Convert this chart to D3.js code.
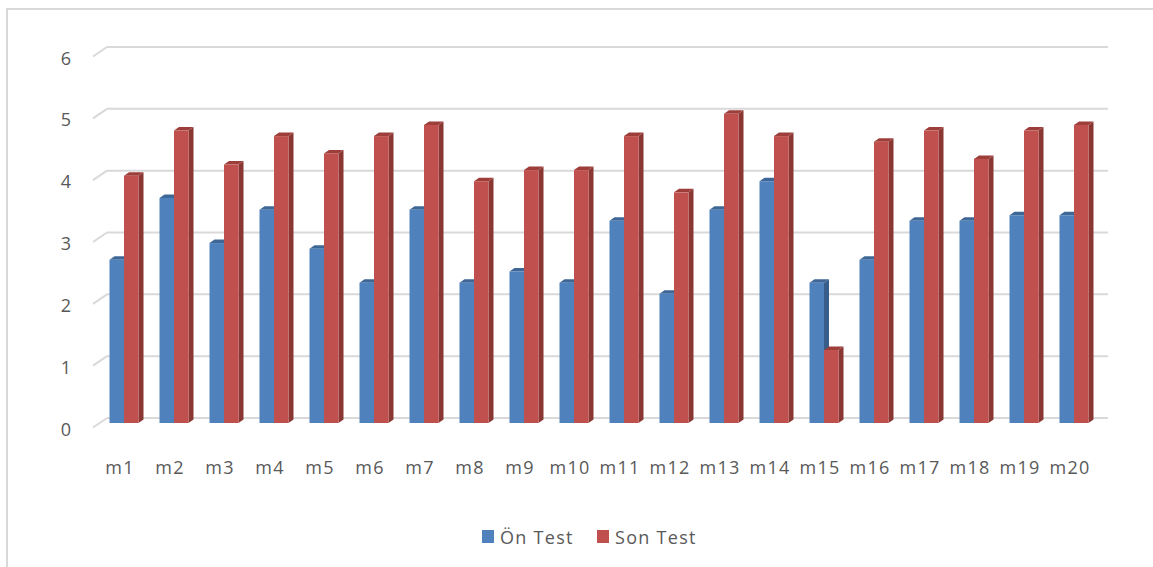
<!DOCTYPE html>
<html><head><meta charset="utf-8">
<script src="https://cdn.jsdelivr.net/npm/d3@7/dist/d3.min.js"></script>
<style>body{margin:0;background:#fff;}svg{display:block;}</style>
</head><body>
<svg id="c" width="1153" height="567"></svg>
<script>
const categories = ["m1","m2","m3","m4","m5","m6","m7","m8","m9","m10","m11","m12","m13","m14","m15","m16","m17","m18","m19","m20"];
const onTest  = [2.64,3.64,2.91,3.45,2.82,2.27,3.45,2.27,2.45,2.27,3.27,2.09,3.45,3.91,2.27,2.64,3.27,3.27,3.36,3.36];
const sonTest = [4.00,4.73,4.18,4.64,4.36,4.64,4.82,3.91,4.09,4.09,4.64,3.73,5.00,4.64,1.18,4.55,4.73,4.27,4.73,4.82];
const seriesNames = ["Ön Test","Son Test"];
const yTicks = [0,1,2,3,4,5,6];

const colors = [
  {front:"#4F81BD", side:"#385D8A", top:"#3E6796"},
  {front:"#C0504D", side:"#8A3734", top:"#9E3E3B"}
];
const font = "'Open Sans', 'DejaVu Sans', sans-serif";
const ls = 1.3;
const svg = d3.select("#c");

// frame
svg.append("rect").attr("x",7).attr("y",9).attr("width",1160).attr("height",580)
  .attr("fill","none").attr("stroke","#d9d9d9").attr("stroke-width",2);

const x = d3.scaleBand().domain(categories).range([107,1107]);
const y = d3.scaleLinear().domain([0,6]).range([418,47]);
const frontDx = -14, frontDy = 9.5;
const barDx = -8, barDy = 5;
const depthX = 5, depthY = -3.5;

// gridlines (back wall + floor diagonal)
const g = svg.append("g");
yTicks.forEach(t=>{
  g.append("line").attr("x1",107).attr("x2",1108).attr("y1",y(t)).attr("y2",y(t))
    .attr("stroke","#d9d9d9").attr("stroke-width",2);
  g.append("line").attr("x1",107+frontDx).attr("y1",y(t)+frontDy).attr("x2",107).attr("y2",y(t))
    .attr("stroke","#d9d9d9").attr("stroke-width",2);
  g.append("text").attr("x",66).attr("y",y(t)+frontDy+1).attr("text-anchor","middle")
    .attr("dominant-baseline","central").attr("font-family",font).attr("font-size",18)
    .attr("fill","#595959").text(t);
});

// bars
const bw = 14.5;
const bars = svg.append("g");
categories.forEach((c,i)=>{
  const cx = x(c) + x.bandwidth()/2 + barDx;
  [onTest[i], sonTest[i]].forEach((v,s)=>{
    const x0 = cx - bw + s*bw;
    const yb = y(0)+barDy, yt = y(v)+barDy;
    const col = colors[s];
    bars.append("path").attr("d",
      `M${x0+bw},${yb}L${x0+bw+depthX},${yb+depthY}L${x0+bw+depthX},${yt+depthY}L${x0+bw},${yt}Z`)
      .attr("fill",col.side);
    bars.append("path").attr("d",
      `M${x0},${yt}L${x0+depthX},${yt+depthY}L${x0+bw+depthX},${yt+depthY}L${x0+bw},${yt}Z`)
      .attr("fill",col.top);
    bars.append("rect").attr("x",x0).attr("y",yt).attr("width",bw).attr("height",yb-yt)
      .attr("fill",col.front);
  });
  svg.append("text").attr("x",x(c)+x.bandwidth()/2 + frontDx + 2).attr("y",474)
    .attr("text-anchor","middle").attr("font-family",font).attr("font-size",18)
    .attr("letter-spacing",ls).attr("fill","#595959").text(c);
});

// legend
const leg = svg.append("g");
const legX = [482, 597];
seriesNames.forEach((n,s)=>{
  leg.append("rect").attr("x",legX[s]).attr("y",530).attr("width",12).attr("height",13)
    .attr("fill",colors[s].front);
  leg.append("text").attr("x",legX[s]+18).attr("y",537).attr("dominant-baseline","central")
    .attr("font-family",font).attr("font-size",18).attr("letter-spacing",ls)
    .attr("fill","#595959").text(n);
});
</script>
</body></html>
